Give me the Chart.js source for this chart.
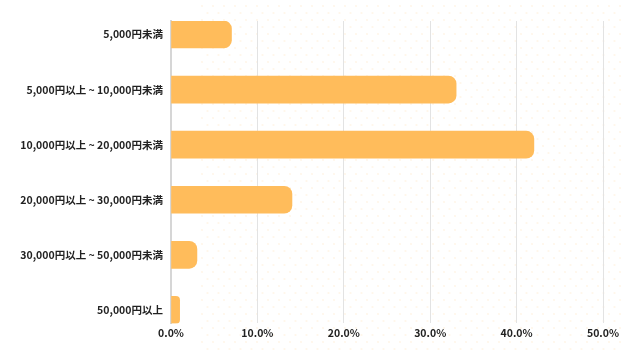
<!DOCTYPE html>
<html>
<head>
<meta charset="utf-8">
<script src="https://cdn.jsdelivr.net/npm/chart.js@4/dist/chart.umd.min.js"></script>
<style>
html,body{margin:0;padding:0;background:#fff;}
#wrap{width:640px;height:360px;position:relative;}
</style>
</head>
<body>
<div id="wrap"><canvas id="c" width="640" height="360"></canvas></div>
<script>
const categories = [
  "5,000円未満",
  "5,000円以上 ~ 10,000円未満",
  "10,000円以上 ~ 20,000円未満",
  "20,000円以上 ~ 30,000円未満",
  "30,000円以上 ~ 50,000円未満",
  "50,000円以上"
];
const shares = [7.0, 33.0, 42.0, 14.0, 3.0, 1.0];
const xTicks = [0, 10, 20, 30, 40, 50];

const dotsPlugin = {
  id: 'dots',
  beforeDraw(chart) {
    const ctx = chart.ctx;
    ctx.save();
    ctx.fillStyle = 'rgba(255,190,100,0.14)';
    let row = 0;
    for (let y = 6; y < 352; y += 7, row++) {
      const off = (row % 2) ? 5.5 : 0;
      for (let x = 202 + off; x < 625; x += 11) {
        ctx.beginPath();
        ctx.arc(x, y, 1.1, 0, Math.PI * 2);
        ctx.fill();
      }
    }
    ctx.restore();
  }
};

const font = { family: "'Noto Sans CJK JP', 'Noto Sans', sans-serif", size: 10.5, weight: 'bold' };

new Chart(document.getElementById('c'), {
  type: 'bar',
  data: {
    datasets: [{
      data: shares.map((v, i) => ({ x: v, y: i })),
      backgroundColor: '#FFBC5B',
      borderRadius: 8,
      borderSkipped: 'start',
      barThickness: 27
    }]
  },
  options: {
    indexAxis: 'y',
    responsive: false,
    animation: false,
    layout: { padding: { top: 21, right: 37, bottom: 18, left: 0 } },
    plugins: { legend: { display: false }, tooltip: { enabled: false } },
    scales: {
      y: {
        type: 'linear',
        reverse: true,
        offset: false,
        bounds: 'data',
        min: -0.245,
        max: 5.245,
        afterFit(scale) { scale.width = 171; },
        afterBuildTicks(scale) { scale.ticks = categories.map((c, i) => ({ value: i })); },
        grid: { display: false, drawTicks: false, offset: false },
        border: { display: true, color: '#d6d6d6', width: 2 },
        ticks: {
          autoSkip: false,
          padding: 8,
          color: '#222',
          font: font,
          callback: (v) => categories[v]
        }
      },
      x: {
        type: 'linear',
        min: xTicks[0],
        max: xTicks[xTicks.length - 1],
        grid: { color: '#e3e3e3', lineWidth: 1, drawTicks: false },
        border: { display: false },
        afterBuildTicks(scale) { scale.ticks = xTicks.map(v => ({ value: v })); },
        ticks: {
          padding: 3,
          color: '#222',
          font: font,
          maxRotation: 0,
          callback: (v) => v.toFixed(1) + '%'
        }
      }
    }
  },
  plugins: [dotsPlugin]
});
</script>
</body>
</html>
